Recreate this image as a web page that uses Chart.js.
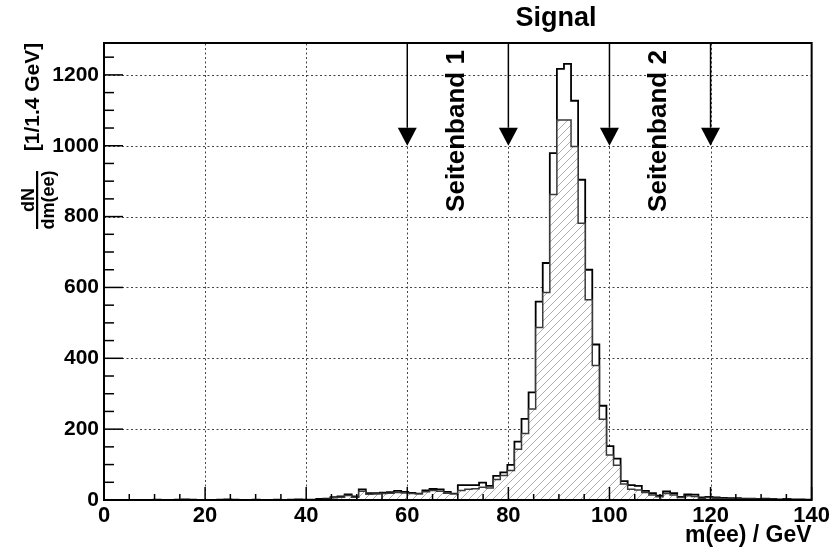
<!DOCTYPE html>
<html lang="de">
<head>
<meta charset="UTF-8">
<title>m(ee) Histogramm</title>
<script src="https://cdn.jsdelivr.net/npm/chart.js"></script>
<style>
  body { margin: 0; background: #fff; }
  canvas { display: block; }
</style>
</head>
<body>
<canvas id="histChart" width="833" height="552"></canvas>
<script>
// Histogram: 100 bins of 1.4 GeV from 0 to 140 GeV
const binWidth = 1.4;
const xMin = 0, xMax = 140;
const yMin = 0, yMax = 1290;
const xTicks = [0, 20, 40, 60, 80, 100, 120, 140];
const yTicks = [0, 200, 400, 600, 800, 1000, 1200];

// total (open outline)
const totalCounts = [
  0, 0, 0, 0, 0, 0, 0, 1, 0, 0,
  1, 2, 1, 0, 0, 0, 1, 2, 1, 0,
  0, 1, 0, 0, 1, 0, 1, 2, 1, 1,
  3, 4, 8, 10, 16, 10, 30, 19, 19, 21,
  22, 26, 23, 20, 18, 27, 31, 30, 23, 18,
  42, 42, 42, 49, 40, 68, 78, 99, 165, 229,
  304, 560, 669, 979, 1217, 1231, 1127, 904, 650, 439,
  266, 152, 117, 53, 42, 40, 26, 19, 12, 24,
  19, 9, 16, 15, 7, 9, 7, 6, 5, 5,
  4, 4, 3, 4, 3, 2, 3, 2, 2, 1
];
// hatched part
const signalCounts = [
  0, 0, 0, 0, 0, 0, 0, 0, 0, 0,
  0, 1, 0, 0, 0, 0, 0, 1, 0, 0,
  0, 0, 0, 0, 0, 0, 0, 1, 0, 0,
  1, 2, 6, 8, 13, 8, 25, 16, 17, 18,
  19, 21, 20, 18, 17, 23, 27, 25, 19, 17,
  27, 30, 32, 36, 34, 58, 69, 83, 143, 188,
  257, 487, 586, 862, 1073, 1073, 998, 781, 565, 380,
  228, 127, 98, 45, 30, 28, 21, 14, 9, 18,
  14, 7, 12, 10, 4, 7, 5, 4, 3, 3,
  2, 3, 2, 2, 2, 1, 2, 1, 1, 1
];

// window boundaries (arrows)
const arrowPos = [60, 80, 100, 120];
const arrowTip = 1000;
const bandLabels = [
  { text: 'Seitenband 1', x: 70 },
  { text: 'Seitenband 2', x: 110 }
];
const signalLabel = { text: 'Signal', x: 90 };

const FONT = '"Liberation Sans", Arial, Helvetica, sans-serif';

// turn bin contents into step points (left edge of each bin)
function toSteps(counts) {
  const pts = [{ x: xMin, y: 0 }];
  counts.forEach((c, i) => pts.push({ x: i * binWidth, y: c }));
  pts.push({ x: counts.length * binWidth, y: 0 });
  return pts;
}

// diagonal hatch pattern
function makeHatch() {
  const s = 8;
  const pc = document.createElement('canvas');
  pc.width = s; pc.height = s;
  const p = pc.getContext('2d');
  p.fillStyle = '#fff';
  p.fillRect(0, 0, s, s);
  p.strokeStyle = '#999';
  p.lineWidth = 0.8;
  p.beginPath();
  p.moveTo(0, s); p.lineTo(s, 0);
  p.moveTo(-1, 1); p.lineTo(1, -1);
  p.moveTo(s - 1, s + 1); p.lineTo(s + 1, s - 1);
  p.stroke();
  return p.createPattern(pc, 'repeat');
}

// grid lines under the histograms
const gridPlugin = {
  id: 'rootGrid',
  beforeDatasetsDraw(chart) {
    const { ctx, chartArea: a, scales: { x, y } } = chart;
    ctx.save();
    ctx.strokeStyle = '#444';
    ctx.lineWidth = 1;
    ctx.setLineDash([2, 2.5]);
    xTicks.forEach(v => {
      if (v === xMin || v === xMax) return;
      const px = Math.round(x.getPixelForValue(v)) + 0.5;
      ctx.beginPath(); ctx.moveTo(px, a.bottom); ctx.lineTo(px, a.top); ctx.stroke();
    });
    yTicks.forEach(v => {
      if (v === yMin) return;
      const py = Math.round(y.getPixelForValue(v)) + 0.5;
      ctx.beginPath(); ctx.moveTo(a.left, py); ctx.lineTo(a.right, py); ctx.stroke();
    });
    ctx.restore();
  }
};

// frame, tick marks, arrows and texts on top
const decoPlugin = {
  id: 'rootDeco',
  afterDatasetsDraw(chart) {
    const { ctx, chartArea: a, scales: { x, y } } = chart;
    ctx.save();
    ctx.strokeStyle = '#000';
    ctx.lineWidth = 1.5;
    // x ticks (major every 20, minor every 5)
    for (let v = xMin; v <= xMax; v += 5) {
      const px = x.getPixelForValue(v);
      const len = v % 20 === 0 ? 13 : 6;
      ctx.beginPath(); ctx.moveTo(px, a.bottom); ctx.lineTo(px, a.bottom - len); ctx.stroke();
    }
    // y ticks (major every 200, minor every 50)
    for (let v = yMin; v <= yMax; v += 50) {
      const py = y.getPixelForValue(v);
      const len = v % 200 === 0 ? 19 : 10;
      ctx.beginPath(); ctx.moveTo(a.left, py); ctx.lineTo(a.left + len, py); ctx.stroke();
    }
    // frame
    ctx.lineWidth = 2;
    ctx.strokeRect(a.left, a.top, a.right - a.left, a.bottom - a.top);

    // arrows
    ctx.fillStyle = '#000';
    ctx.lineWidth = 1.5;
    arrowPos.forEach(v => {
      const px = x.getPixelForValue(v);
      const tip = y.getPixelForValue(arrowTip);
      const head = 18, half = 9.5;
      ctx.beginPath(); ctx.moveTo(px, a.top); ctx.lineTo(px, tip - head); ctx.stroke();
      ctx.beginPath();
      ctx.moveTo(px - half, tip - head);
      ctx.lineTo(px + half, tip - head);
      ctx.lineTo(px, tip);
      ctx.closePath(); ctx.fill();
    });

    // labels
    ctx.font = 'bold 27px ' + FONT;
    ctx.textAlign = 'center';
    ctx.textBaseline = 'middle';
    ctx.fillText(signalLabel.text, x.getPixelForValue(signalLabel.x) - 3, 19);
    ctx.font = 'bold 26px ' + FONT;
    bandLabels.forEach(b => {
      ctx.save();
      ctx.translate(x.getPixelForValue(b.x) - 1, a.top + 88);
      ctx.rotate(-Math.PI / 2);
      ctx.fillText(b.text, 0, 0);
      ctx.restore();
    });

    // x axis title
    ctx.font = 'bold 23px ' + FONT;
    ctx.textAlign = 'right';
    ctx.fillText('m(ee) / GeV', a.right, 536);

    // y axis title: dN/dm(ee) [1/1.4 GeV]
    ctx.save();
    ctx.translate(33, 0);
    ctx.rotate(-Math.PI / 2);
    // after rotation: (u, v) -> screen (33 + v, -u)
    ctx.textAlign = 'center';
    ctx.font = 'bold 18px ' + FONT;
    ctx.textBaseline = 'alphabetic';
    ctx.fillText('dN', -200, 1);
    ctx.textBaseline = 'top';
    ctx.fillText('dm(ee)', -200, 7);
    ctx.fillRect(-229, 3, 58, 2.2);
    ctx.font = 'bold 21px ' + FONT;
    ctx.textBaseline = 'middle';
    ctx.fillText('[1/1.4 GeV]', -97, 0);
    ctx.restore();

    ctx.restore();
  }
};

const ctx = document.getElementById('histChart').getContext('2d');
new Chart(ctx, {
  type: 'line',
  data: {
    datasets: [{
      label: 'Signal',
      data: toSteps(signalCounts),
      stepped: true,
      borderColor: '#3a3a3a',
      borderWidth: 1.5,
      backgroundColor: makeHatch(),
      fill: 'origin',
      pointRadius: 0,
      order: 0
    }, {
      label: 'Gesamt',
      data: toSteps(totalCounts),
      stepped: true,
      borderColor: '#000',
      borderWidth: 1.8,
      backgroundColor: '#fff',
      fill: 'origin',
      pointRadius: 0,
      order: 1
    }]
  },
  options: {
    responsive: false,
    animation: false,
    devicePixelRatio: 1,
    layout: { padding: { top: 43, right: 21, left: 0, bottom: 0 } },
    plugins: { legend: { display: false }, tooltip: { enabled: false } },
    scales: {
      x: {
        type: 'linear',
        min: xMin, max: xMax,
        grid: { display: false, drawTicks: false },
        border: { display: false },
        afterBuildTicks: s => { s.ticks = xTicks.map(v => ({ value: v })); },
        afterFit: s => { s.height = 52; },
        ticks: {
          padding: 3,
          color: '#000',
          font: { family: FONT, size: 22, weight: 'bold' },
          callback: v => String(v)
        }
      },
      y: {
        type: 'linear',
        min: yMin, max: yMax,
        grid: { display: false, drawTicks: false },
        border: { display: false },
        afterBuildTicks: s => { s.ticks = yTicks.map(v => ({ value: v })); },
        afterFit: s => { s.width = 104; },
        ticks: {
          padding: 5,
          color: '#000',
          font: { family: FONT, size: 21, weight: 'bold' },
          callback: v => String(v)
        }
      }
    }
  },
  plugins: [gridPlugin, decoPlugin]
});
</script>
</body>
</html>
